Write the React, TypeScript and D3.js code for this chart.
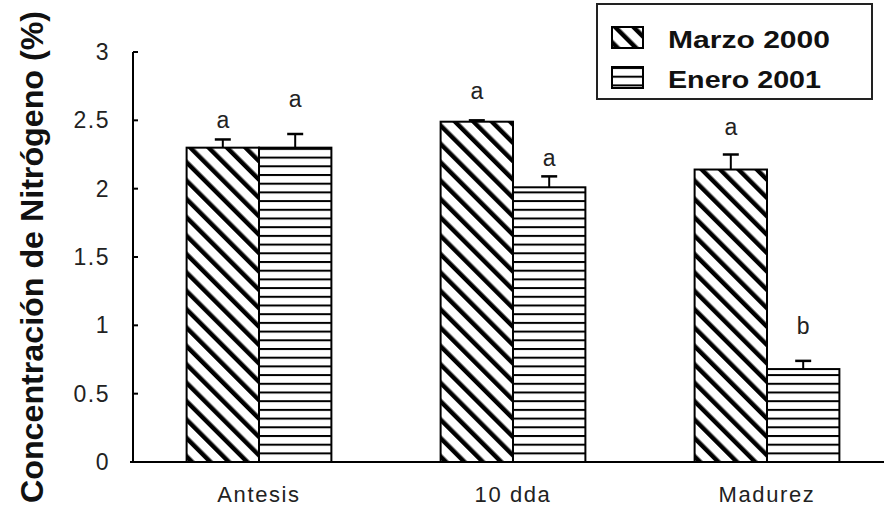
import React from 'react';
import * as d3 from 'd3';

const categories = ['Antesis', '10 dda', 'Madurez'];
const series = ['Marzo 2000', 'Enero 2001'];
const marzo = [2.3, 2.49, 2.14];
const enero = [2.3, 2.01, 0.68];
const marzoErr = [0.06, 0.01, 0.11];
const eneroErr = [0.1, 0.08, 0.06];
// letter position in data units (centre of the letter)
const marzoLetter = ['a', 'a', 'a'];
const eneroLetter = ['a', 'a', 'b'];
const marzoLetterY = [2.49, 2.7, 2.44];
const eneroLetterY = [2.64, 2.21, 0.98];
const yTicks = [0, 0.5, 1, 1.5, 2, 2.5, 3];

const W = 884;
const H = 508;
const font = '"Liberation Sans", Arial, sans-serif';

export default function App() {
  const y = d3.scaleLinear().domain([0, 3]).range([462, 52]);
  const x = d3
    .scaleBand()
    .domain(categories)
    .range([132, 894])
    .paddingInner(0.43)
    .paddingOuter(0.215);
  const xs = d3.scaleBand().domain(series).range([0, x.bandwidth()]);

  const rows = categories.map((c, i) => ({
    cat: c,
    bars: [
      { s: series[0], v: marzo[i], e: marzoErr[i], l: marzoLetter[i], ly: marzoLetterY[i], fill: 'url(#diag)' },
      { s: series[1], v: enero[i], e: eneroErr[i], l: eneroLetter[i], ly: eneroLetterY[i], fill: 'url(#horiz)' },
    ],
  }));

  return (
    <svg
      width={W}
      height={H}
      style={{ position: 'absolute', left: 0, top: 0, background: '#fff' }}
      fontFamily={font}
    >
      <defs>
        <pattern id="diag" patternUnits="userSpaceOnUse" width={13} height={13} patternTransform="rotate(-45)">
          <rect width={13} height={13} fill="#fff" />
          <line x1={0} y1={0} x2={0} y2={13} stroke="#000" strokeWidth={9} />
        </pattern>
        <pattern id="horiz" patternUnits="userSpaceOnUse" width={10} height={8.7}>
          <rect width={10} height={8.7} fill="#fff" />
          <line x1={0} y1={1} x2={10} y2={1} stroke="#000" strokeWidth={2} />
        </pattern>
      </defs>

      {/* bars */}
      {rows.map((r) => (
        <g key={r.cat} transform={`translate(${x(r.cat)},0)`}>
          {r.bars.map((b) => {
            const bx = xs(b.s)!;
            const cx = bx + xs.bandwidth() / 2;
            return (
              <g key={b.s}>
                <rect
                  x={bx}
                  y={y(b.v)}
                  width={xs.bandwidth()}
                  height={y(0) - y(b.v)}
                  fill={b.fill}
                  stroke="#000"
                  strokeWidth={2}
                />
                <line x1={cx} x2={cx} y1={y(b.v)} y2={y(b.v + b.e)} stroke="#000" strokeWidth={2} />
                <line x1={cx - 8} x2={cx + 8} y1={y(b.v + b.e)} y2={y(b.v + b.e)} stroke="#000" strokeWidth={2.5} />
                <text
                  x={cx}
                  y={y(b.ly) + 6}
                  textAnchor="middle"
                  fontSize={23}
                  fill="#222"
                >
                  {b.l}
                </text>
              </g>
            );
          })}
        </g>
      ))}

      {/* axes */}
      <line x1={133} x2={133} y1={y(3)} y2={y(0)} stroke="#000" strokeWidth={2} />
      <line x1={130} x2={W} y1={y(0)} y2={y(0)} stroke="#000" strokeWidth={2} />
      {yTicks.map((t) => (
        <g key={t}>
          <line x1={133} x2={138} y1={y(t)} y2={y(t)} stroke="#000" strokeWidth={2} />
          <text
            x={110}
            y={y(t) + 8}
            textAnchor="end"
            fontSize={23}
            letterSpacing={1.5}
            fill="#222"
          >
            {d3.format('~g')(t)}
          </text>
        </g>
      ))}
      {categories.map((c) => (
        <text
          key={c}
          x={x(c)! + x.bandwidth() / 2}
          y={502}
          textAnchor="middle"
          fontSize={22}
          letterSpacing={1.6}
          fill="#222"
        >
          {c}
        </text>
      ))}

      {/* y title */}
      <text
        transform="translate(43,257) rotate(-90)"
        textAnchor="middle"
        fontSize={31}
        fontWeight="bold"
        textLength={492}
        lengthAdjust="spacingAndGlyphs"
        fill="#111"
      >
        Concentración de Nitrógeno (%)
      </text>

      {/* legend */}
      <rect x={597} y={4} width={275} height={95} fill="#fff" stroke="#222" strokeWidth={2} />
      {series.map((s, i) => (
        <g key={s} transform={`translate(612,${27 + i * 40})`}>
          <rect width={31} height={21} fill={i === 0 ? 'url(#diag)' : 'url(#horiz)'} stroke="#000" strokeWidth={2} />
          <text
            x={56}
            y={21}
            fontSize={24}
            fontWeight="bold"
            textLength={i === 0 ? 162 : 153}
            lengthAdjust="spacingAndGlyphs"
            fill="#111"
          >
            {s}
          </text>
        </g>
      ))}
    </svg>
  );
}
